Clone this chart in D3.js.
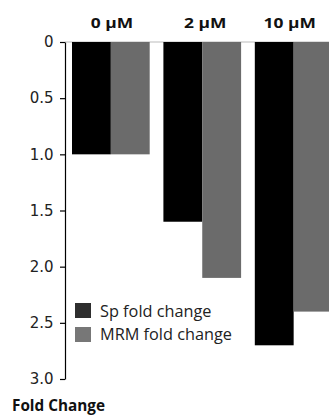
<!DOCTYPE html>
<html><head><meta charset="utf-8">
<script src="https://cdn.jsdelivr.net/npm/d3@7"></script>
<style>html,body{margin:0;padding:0;background:#fff;}svg{display:block;}</style>
</head><body>
<script>
const groups = ["0 \u00B5M", "2 \u00B5M", "10 \u00B5M"];
const seriesNames = ["Sp fold change", "MRM fold change"];
const spValues = [1.0, 1.6, 2.7];
const mrmValues = [1.0, 2.1, 2.4];
const tickValues = [0, 0.5, 1.0, 1.5, 2.0, 2.5, 3.0];
const tickLabels = ["0", "0.5", "1.0", "1.5", "2.0", "2.5", "3.0"];
const colors = ["#000000", "#6b6b6b"];
const legendColors = ["#2e2e2e", "#777777"];

const W = 329, H = 416;
const svg = d3.select("body").append("svg").attr("width", W).attr("height", H);

const y = d3.scaleLinear().domain([0, 3]).range([42, 379]);
const x = d3.scaleBand().domain(groups).range([72, 332.5]).paddingInner(0.15).paddingOuter(0);
const xs = d3.scaleBand().domain(seriesNames).range([0, x.bandwidth()]);

const data = groups.map((g, i) => ({g, vals: [spValues[i], mrmValues[i]]}));

// top baseline line
svg.append("line").attr("x1", 65).attr("x2", W).attr("y1", y(0)).attr("y2", y(0))
  .attr("stroke", "#bbb").attr("stroke-width", 1);

const gsel = svg.selectAll("g.grp").data(data).enter().append("g")
  .attr("transform", d => `translate(${x(d.g)},0)`);
gsel.selectAll("rect").data(d => d.vals.map((v, j) => ({v, j}))).enter().append("rect")
  .attr("x", d => xs(seriesNames[d.j]))
  .attr("y", y(0))
  .attr("width", xs.bandwidth())
  .attr("height", d => y(d.v) - y(0))
  .attr("fill", d => colors[d.j]);

// axis
const axis = d3.axisLeft(y).tickValues(tickValues).tickFormat((d, i) => tickLabels[i]).tickSize(5).tickSizeOuter(0);
const ag = svg.append("g").attr("transform", "translate(65,0)").call(axis);
ag.select(".domain").attr("stroke", "#000").attr("stroke-width", 1.2);
ag.selectAll(".tick line").attr("stroke", "#000").attr("stroke-width", 1.2);
ag.selectAll(".tick text").attr("font-family", "DejaVu Sans, sans-serif")
  .attr("font-size", 15).attr("fill", "#222").attr("x", -11.5);

// group labels
const labelNudge = [1, 3, -4];
svg.selectAll("text.glab").data(groups).enter().append("text")
  .attr("transform", (d, i) => `translate(${x(d) + x.bandwidth() / 2 + labelNudge[i]},28) scale(1.2,1)`)
  .attr("text-anchor", "middle")
  .attr("font-family", "Open Sans, sans-serif")
  .attr("font-weight", "bold")
  .attr("font-size", 14.5)
  .attr("fill", "#111")
  .text(d => d);

// legend
const lg = svg.append("g");
seriesNames.forEach((s, i) => {
  lg.append("rect").attr("x", 75).attr("y", 303 + i * 24).attr("width", 16).attr("height", 15)
    .attr("fill", legendColors[i]);
  lg.append("text").attr("x", 100).attr("y", 317 + i * 23)
    .attr("font-family", "Open Sans, sans-serif").attr("font-size", 16.3).attr("fill", "#222").text(s);
});

// axis title
svg.append("text").attr("x", 12).attr("y", 411)
  .attr("font-family", "Open Sans, sans-serif").attr("font-weight", "bold")
  .attr("font-size", 15.3).attr("fill", "#111").text("Fold Change");
</script>
</body></html>
